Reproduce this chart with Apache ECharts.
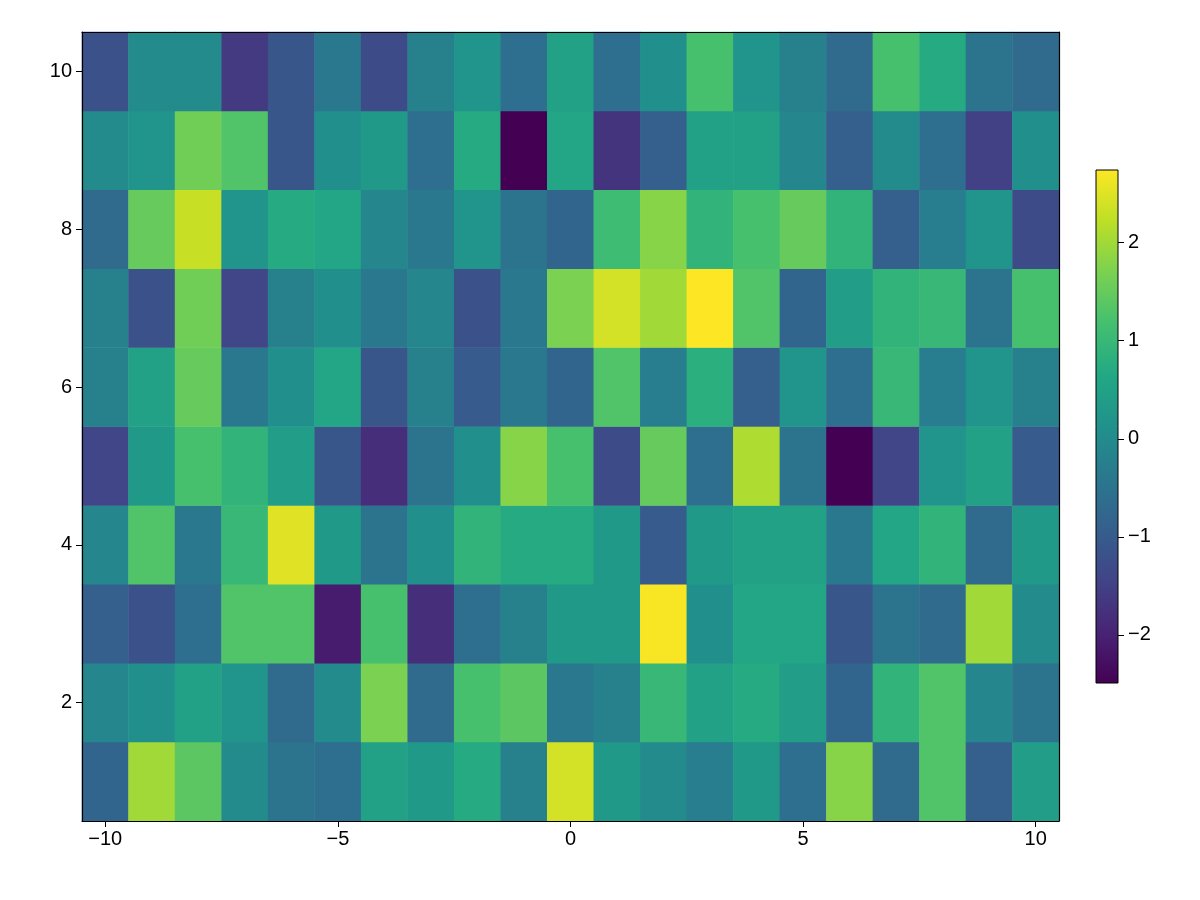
<!DOCTYPE html>
<html>
<head>
<meta charset="utf-8">
<script src="https://cdn.jsdelivr.net/npm/echarts@6/dist/echarts.min.js"></script>
<style>html,body{margin:0;padding:0;background:#fff}#main{width:1200px;height:900px}</style>
</head>
<body>
<div id="main"></div>
<script>
// x and y categories
const xCats = [];
for (let i = -10; i <= 10; i++) xCats.push(String(i));
const yCats = ['1', '2', '3', '4', '5', '6', '7', '8', '9', '10'];

// one row of values per y, x from -10 to 10
const row1 = [-0.8, 2.0, 1.4, 0, -0.5, -0.6, 0.5, 0.3, 0.7, -0.2, 2.4, 0.3, 0, -0.3, 0.3, -0.6, 1.8, -0.7, 1.3, -0.9, 0.4];
const row2 = [-0.1, 0.1, 0.5, 0.2, -0.7, 0, 1.7, -0.7, 1.2, 1.4, -0.4, -0.2, 1.0, 0.5, 0.7, 0.4, -0.8, 0.9, 1.3, -0.1, -0.5];
const row3 = [-0.9, -1.2, -0.6, 1.3, 1.3, -2.1, 1.2, -1.8, -0.6, -0.2, 0.3, 0.3, 2.7, 0.1, 0.6, 0.6, -1.1, -0.5, -0.7, 2.0, 0];
const row4 = [-0.1, 1.3, -0.4, 1.0, 2.5, 0.3, -0.5, 0.1, 0.9, 0.7, 0.7, 0.3, -1.0, 0.3, 0.5, 0.5, -0.4, 0.6, 0.9, -0.7, 0.3];
const row5 = [-1.4, 0.3, 1.2, 0.9, 0.4, -1.1, -1.8, -0.5, 0.1, 1.8, 1.2, -1.3, 1.5, -0.6, 2.1, -0.5, -2.49, -1.4, 0.2, 0.5, -1.0];
const row6 = [-0.2, 0.5, 1.5, -0.4, 0.1, 0.6, -1.1, -0.2, -1.0, -0.4, -0.8, 1.3, -0.3, 0.8, -0.9, 0.2, -0.6, 1.0, -0.3, 0.2, -0.2];
const row7 = [-0.2, -1.2, 1.6, -1.4, -0.2, 0.1, -0.4, -0.1, -1.2, -0.4, 1.7, 2.4, 2.0, 2.74, 1.3, -0.8, 0.4, 0.9, 1.0, -0.5, 1.2];
const row8 = [-0.7, 1.5, 2.3, 0.2, 0.7, 0.6, -0.1, -0.4, 0.2, -0.5, -0.8, 1.1, 1.8, 0.9, 1.2, 1.5, 0.9, -0.9, -0.3, 0.2, -1.3];
const row9 = [0, 0.2, 1.6, 1.3, -1.1, 0.1, 0.3, -0.6, 0.7, -2.5, 0.6, -1.7, -0.9, 0.5, 0.5, -0.1, -0.9, 0, -0.6, -1.5, 0.1];
const row10 = [-1.2, 0, 0, -1.6, -1.1, -0.4, -1.3, -0.2, 0.2, -0.6, 0.5, -0.6, 0.1, 1.2, 0.2, -0.2, -0.7, 1.2, 0.7, -0.5, -0.7];
const rows = [row1, row2, row3, row4, row5, row6, row7, row8, row9, row10];

const zMin = -2.49, zMax = 2.74;
const barTicks = [-2, -1, 0, 1, 2];

const viridis = ['#440154', '#482475', '#414487', '#355f8d', '#2a788e', '#21918c', '#22a884', '#44bf70', '#7ad151', '#bddf26', '#fde725'];

const data = [];
rows.forEach((r, yi) => r.forEach((v, xi) => data.push([xi, yi, v])));

const minus = s => String(s).replace('-', '\u2212');
const font = { fontFamily: 'Liberation Sans', fontSize: 20, color: '#000' };
const frameLine = { show: true, onZero: false, lineStyle: { color: '#000', width: 1.2 } };

const chart = echarts.init(document.getElementById('main'));
chart.setOption({
  backgroundColor: '#fff',
  animation: false,
  grid: [
    { left: 82, right: 141, top: 32, bottom: 79 },
    {
      left: 1096, width: 22, top: 170, height: 513, show: true, borderColor: '#000', borderWidth: 1,
      backgroundColor: new echarts.graphic.LinearGradient(0, 1, 0, 0,
        viridis.map((c, i) => ({ offset: i / (viridis.length - 1), color: c })))
    }
  ],
  xAxis: [
    {
      gridIndex: 0, type: 'category', data: xCats, position: 'bottom', z: 10,
      axisLine: frameLine,
      axisTick: { show: true, alignWithLabel: true, length: 6, interval: (i, v) => Number(v) % 5 === 0, lineStyle: { color: '#000' } },
      axisLabel: Object.assign({ interval: (i, v) => Number(v) % 5 === 0, formatter: minus, margin: 8 }, font),
      splitLine: { show: false }
    },
    { gridIndex: 1, type: 'category', data: [''], show: false },
    {
      gridIndex: 0, type: 'category', data: xCats, position: 'top', z: 10,
      axisLine: frameLine, axisTick: { show: false }, axisLabel: { show: false }, splitLine: { show: false }
    }
  ],
  yAxis: [
    {
      gridIndex: 0, type: 'category', data: yCats, position: 'left', z: 10,
      axisLine: frameLine,
      axisTick: { show: true, alignWithLabel: true, length: 6, interval: (i, v) => Number(v) % 2 === 0, lineStyle: { color: '#000' } },
      axisLabel: Object.assign({ interval: (i, v) => Number(v) % 2 === 0, margin: 10 }, font),
      splitLine: { show: false }
    },
    {
      gridIndex: 1, type: 'value', position: 'right', min: zMin, max: zMax, z: 10,
      axisLine: { show: false },
      axisTick: { show: true, length: 6, customValues: barTicks, lineStyle: { color: '#000' } },
      axisLabel: Object.assign({ customValues: barTicks, formatter: minus, margin: 10 }, font),
      splitLine: { show: false }
    },
    {
      gridIndex: 0, type: 'category', data: yCats, position: 'right', z: 10,
      axisLine: frameLine, axisTick: { show: false }, axisLabel: { show: false }, splitLine: { show: false }
    }
  ],
  visualMap: {
    show: false, type: 'continuous', min: zMin, max: zMax, seriesIndex: 0,
    inRange: { color: viridis }
  },
  series: [
    { type: 'heatmap', xAxisIndex: 0, yAxisIndex: 0, data: data, itemStyle: { borderWidth: 0 } },
    { type: 'scatter', xAxisIndex: 1, yAxisIndex: 1, data: [], silent: true }
  ]
});
</script>
</body>
</html>
